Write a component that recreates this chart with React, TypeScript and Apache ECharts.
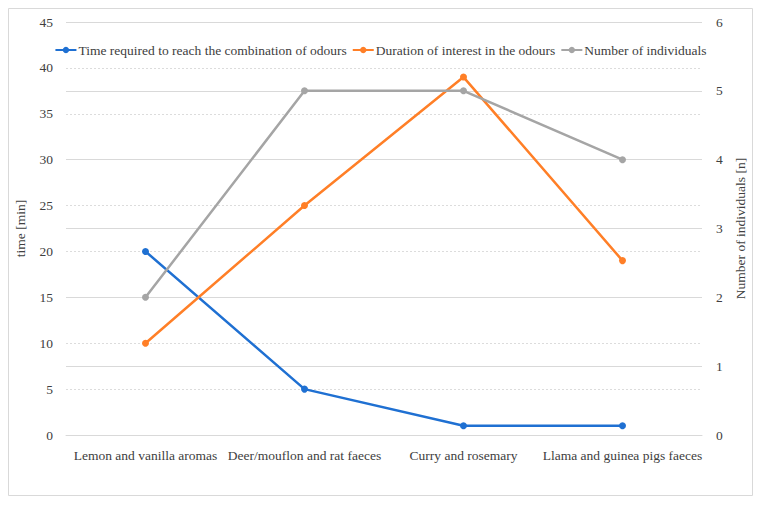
import React, { useEffect, useRef } from "react";
import * as echarts from "echarts";

const categories = [
  "Lemon and vanilla aromas",
  "Deer/mouflon and rat faeces",
  "Curry and rosemary",
  "Llama and guinea pigs faeces",
];
const timeToReach = [20, 5, 1, 1];
const durationInterest = [10, 25, 39, 19];
const individuals = [2, 5, 5, 4];

const seriesNames = [
  "Time required to reach the combination of odours",
  "Duration of interest in the odours",
  "Number of individuals",
];

const FONT = "Liberation Serif";

export default function App() {
  const ref = useRef<HTMLDivElement>(null);
  useEffect(() => {
    if (!ref.current) return;
    const chart = echarts.init(ref.current, undefined, { renderer: "svg" });
    const mk = (name: string, data: number[], color: string, yAxisIndex: number) => ({
      name,
      type: "line",
      data,
      yAxisIndex,
      symbol: "circle",
      symbolSize: 7,
      lineStyle: { color, width: 2.5 },
      itemStyle: { color },
    });
    chart.setOption({
      animation: false,
      textStyle: { fontFamily: FONT },
      graphic: [
        {
          type: "rect",
          shape: { x: 8.5, y: 8.5, width: 744, height: 487 },
          style: { fill: "#fff", stroke: "#d9d9d9", lineWidth: 1 },
          z: -10,
        },
      ],
      legend: {
        top: 38,
        left: "center",
        itemWidth: 21,
        itemHeight: 8,
        itemGap: 5,
        textStyle: { fontFamily: FONT, fontSize: 13.5, color: "#404040", padding: [0, 0, 0, -3] },
        data: seriesNames,
      },
      grid: { left: 66, right: 59, top: 22, bottom: 72 },
      xAxis: {
        type: "category",
        data: categories,
        boundaryGap: true,
        axisLine: { lineStyle: { color: "#d9d9d9", width: 1 } },
        axisTick: { show: false },
        axisLabel: { color: "#404040", fontSize: 13.5, margin: 13, fontFamily: FONT, interval: 0 },
      },
      yAxis: [
        {
          type: "value",
          min: 0,
          max: 45,
          interval: 5,
          name: "time [min]",
          nameLocation: "middle",
          nameGap: 39,
          nameTextStyle: { color: "#404040", fontSize: 13.5, fontFamily: FONT },
          axisLine: { show: false },
          axisTick: { show: false },
          axisLabel: { color: "#404040", fontSize: 13.5, margin: 13, fontFamily: FONT },
          splitLine: { lineStyle: { color: "#dcdcdc", type: [2, 2], width: 1 } },
        },
        {
          type: "value",
          min: 0,
          max: 6,
          interval: 1,
          position: "right",
          name: "Number of individuals [n]",
          nameLocation: "middle",
          nameGap: 29,
          nameRotate: 90,
          nameTextStyle: { color: "#404040", fontSize: 13.5, fontFamily: FONT },
          axisLine: { show: false },
          axisTick: { show: false },
          axisLabel: { color: "#404040", fontSize: 13.5, margin: 14, fontFamily: FONT },
          splitLine: { lineStyle: { color: "#d9d9d9", type: "solid", width: 1 } },
        },
      ],
      series: [
        mk(seriesNames[0], timeToReach, "#1f70d2", 0),
        mk(seriesNames[1], durationInterest, "#ff7f27", 0),
        mk(seriesNames[2], individuals, "#a5a5a5", 1),
      ],
    });
    return () => chart.dispose();
  }, []);
  return (
    <div
      ref={ref}
      style={{ position: "absolute", left: 0, top: 0, width: 761, height: 507 }}
    />
  );
}
